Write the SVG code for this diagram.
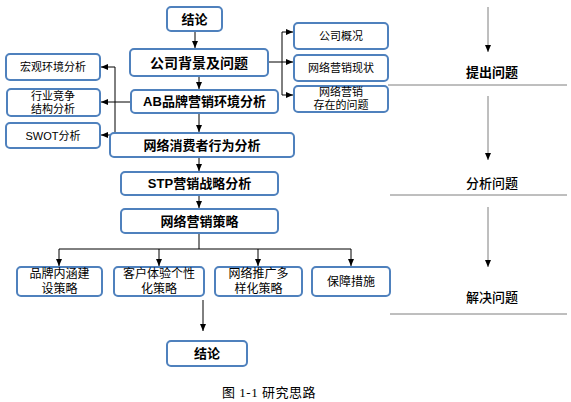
<svg xmlns="http://www.w3.org/2000/svg" width="571" height="402" viewBox="0 0 571 402">
<style>
.box{fill:#fff;stroke:#4f81bd;stroke-width:2}
.t{font-family:"Liberation Sans","Noto Sans CJK SC",sans-serif;fill:#000;text-anchor:middle;dominant-baseline:central}
.b{font-weight:bold;font-size:13px}
.s{font-size:11px}
.m{font-size:12px}
.ln{stroke:#000;stroke-width:1;fill:none}
.gl{stroke:#7f7f7f;stroke-width:1;fill:none}
</style>
<defs>
<marker id="ah" markerWidth="8" markerHeight="8" refX="7" refY="4" orient="auto" markerUnits="userSpaceOnUse">
<path d="M0,1 L7,4 L0,7 Z" fill="#000"/>
</marker>
</defs>
<rect width="571" height="402" fill="#fff"/>
<g id="connectors">
<line class="ln" x1="195" y1="31" x2="195" y2="48" marker-end="url(#ah)"/>
<line class="ln" x1="199" y1="77" x2="199" y2="89" marker-end="url(#ah)"/>
<line class="ln" x1="199" y1="114" x2="199" y2="132" marker-end="url(#ah)"/>
<line class="ln" x1="199" y1="158" x2="199" y2="171" marker-end="url(#ah)"/>
<line class="ln" x1="199" y1="196" x2="199" y2="208" marker-end="url(#ah)"/>
<polyline class="ln" points="268,62 282,62"/>
<line class="ln" x1="282" y1="32" x2="282" y2="95"/>
<line class="ln" x1="282" y1="32" x2="293" y2="32" marker-end="url(#ah)"/>
<line class="ln" x1="282" y1="62" x2="293" y2="62" marker-end="url(#ah)"/>
<line class="ln" x1="282" y1="95" x2="293" y2="95" marker-end="url(#ah)"/>
<line class="ln" x1="130" y1="102" x2="101" y2="102" marker-end="url(#ah)"/>
<line class="ln" x1="115" y1="67" x2="115" y2="135"/>
<line class="ln" x1="115" y1="67" x2="101" y2="67" marker-end="url(#ah)"/>
<line class="ln" x1="115" y1="135" x2="101" y2="135" marker-end="url(#ah)"/>
<line class="ln" x1="199" y1="234" x2="199" y2="249"/>
<line class="ln" x1="59" y1="249" x2="351" y2="249"/>
<line class="ln" x1="59" y1="249" x2="59" y2="266" marker-end="url(#ah)"/>
<line class="ln" x1="159" y1="249" x2="159" y2="266" marker-end="url(#ah)"/>
<line class="ln" x1="258" y1="249" x2="258" y2="266" marker-end="url(#ah)"/>
<line class="ln" x1="351" y1="249" x2="351" y2="266" marker-end="url(#ah)"/>
<line class="ln" x1="203" y1="300" x2="203" y2="331" marker-end="url(#ah)"/>
<line class="gl" x1="488" y1="7" x2="488" y2="52" marker-end="url(#ah)"/>
<line class="gl" x1="488" y1="96" x2="488" y2="160" marker-end="url(#ah)"/>
<line class="gl" x1="488" y1="207" x2="488" y2="267" marker-end="url(#ah)"/>
<line class="gl" x1="388" y1="85" x2="567" y2="85"/>
<line class="gl" x1="390" y1="195" x2="567" y2="195"/>
<line class="gl" x1="390" y1="314" x2="567" y2="314"/>
</g>
<g id="n_jielun1"><rect class="box" x="167" y="7" width="55" height="24" rx="4"/><text class="t b" x="194.5" y="19">结论</text></g>
<g id="n_gongsi"><rect class="box" x="130" y="49" width="138" height="27" rx="4"/><text class="t b" x="199" y="62.5" style="font-size:14px">公司背景及问题</text></g>
<g id="n_ab"><rect class="box" x="131" y="90" width="147" height="23" rx="4"/><text class="t b" x="204.5" y="101.5">AB品牌营销环境分析</text></g>
<g id="n_xiaofei"><rect class="box" x="110" y="133" width="184" height="24" rx="4"/><text class="t b" x="202" y="145">网络消费者行为分析</text></g>
<g id="n_hongguan"><rect class="box" x="6" y="54" width="94" height="26" rx="4"/><text class="t s" x="53" y="67">宏观环境分析</text></g>
<g id="n_hangye"><rect class="box" x="7" y="89" width="93" height="27" rx="4"/><text class="t s" x="53" y="96">行业竞争</text><text class="t s" x="53" y="109">结构分析</text></g>
<g id="n_swot"><rect class="box" x="6" y="123" width="94" height="25" rx="4"/><text class="t s" x="53" y="135.5">SWOT分析</text></g>
<g id="n_gaikuang"><rect class="box" x="294" y="23" width="94" height="26" rx="4"/><text class="t s" x="341" y="36">公司概况</text></g>
<g id="n_xianzhuang"><rect class="box" x="294" y="55" width="94" height="26" rx="4"/><text class="t s" x="341" y="68">网络营销现状</text></g>
<g id="n_wenti"><rect class="box" x="294" y="86" width="94" height="26" rx="4"/><text class="t s" x="341" y="92">网络营销</text><text class="t s" x="341" y="105">存在的问题</text></g>
<g id="n_stp"><rect class="box" x="121" y="172" width="157" height="23" rx="4"/><text class="t b" x="199.5" y="183.5">STP营销战略分析</text></g>
<g id="n_celue"><rect class="box" x="121" y="209" width="157" height="24" rx="4"/><text class="t b" x="199.5" y="221">网络营销策略</text></g>
<g id="n_pinpai"><rect class="box" x="17" y="267" width="85" height="29" rx="4"/><text class="t m" x="59.5" y="274">品牌内涵建</text><text class="t m" x="59.5" y="289">设策略</text></g>
<g id="n_kehu"><rect class="box" x="114" y="267" width="90" height="29" rx="4"/><text class="t m" x="159" y="274">客户体验个性</text><text class="t m" x="159" y="289">化策略</text></g>
<g id="n_tuiguang"><rect class="box" x="215" y="267" width="87" height="29" rx="4"/><text class="t m" x="258.5" y="274">网络推广多</text><text class="t m" x="258.5" y="289">样化策略</text></g>
<g id="n_baozhang"><rect class="box" x="312" y="267" width="78" height="29" rx="4"/><text class="t m" x="351" y="282">保障措施</text></g>
<g id="n_jielun2"><rect class="box" x="167" y="341" width="80" height="25" rx="4"/><text class="t b" x="207" y="353.5">结论</text></g>
<g id="phases">
<text class="t b" x="492" y="72">提出问题</text>
<text class="t" x="492" y="183" style="font-size:13px;font-weight:500">分析问题</text>
<text class="t" x="492" y="297" style="font-size:13px;font-weight:500">解决问题</text>
</g>
<text x="269" y="392" style="font-family:'Liberation Serif','Noto Sans CJK SC',serif;font-size:13px;text-anchor:middle;dominant-baseline:central;letter-spacing:0.5px">图 1-1  研究思路</text>
</svg>
